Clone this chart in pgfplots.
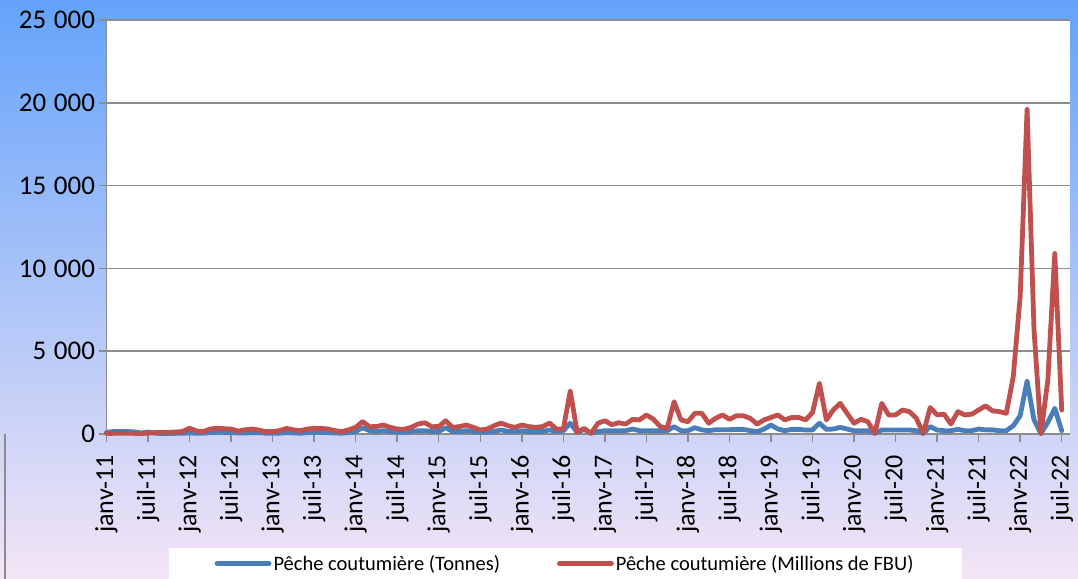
\documentclass[border=0pt]{standalone}
\usepackage{pgfplots}
\pgfplotsset{compat=1.18}
\usepackage{pgfplotstable}
\usepackage{fontspec}
\setmainfont{Carlito}
\definecolor{serblue}{RGB}{74,126,187}
\definecolor{serred}{RGB}{192,80,77}
\definecolor{gridgray}{RGB}{140,140,140}
\definecolor{bgtop}{RGB}{100,163,250}
\definecolor{bgmid}{RGB}{192,211,240}
\definecolor{bgbot}{RGB}{243,229,246}

\pgfplotstableread{
i t m
0 100 30
1 150 40
2 150 50
3 150 50
4 130 40
5 60 30
6 120 60
7 50 80
8 30 100
9 30 100
10 40 120
11 50 150
12 60 350
13 50 180
14 50 150
15 80 300
16 100 350
17 100 320
18 80 300
19 60 180
20 60 250
21 80 300
22 80 240
23 50 140
24 50 150
25 50 200
26 80 340
27 60 250
28 50 200
29 80 300
30 100 340
31 100 340
32 80 300
33 60 200
34 50 140
35 80 250
36 150 400
37 380 750
38 200 440
39 150 450
40 200 540
41 150 400
42 100 300
43 100 280
44 150 400
45 200 600
46 200 680
47 150 440
48 150 450
49 380 800
50 150 400
51 150 450
52 200 540
53 150 400
54 100 240
55 100 300
56 150 500
57 250 660
58 150 500
59 150 400
60 200 540
61 150 450
62 150 400
63 150 450
64 250 660
65 150 300
66 200 300
67 650 2600
68 100 100
69 280 340
70 50 40
71 150 650
72 200 800
73 200 560
74 200 680
75 200 600
76 300 880
77 200 850
78 200 1150
79 200 900
80 200 450
81 200 350
82 440 1950
83 200 850
84 200 740
85 380 1250
86 250 1250
87 200 650
88 260 950
89 260 1150
90 260 890
91 280 1100
92 280 1100
93 200 950
94 140 600
95 300 850
96 540 1000
97 300 1150
98 200 850
99 280 1000
100 280 1000
101 240 850
102 250 1300
103 650 3060
104 280 850
105 300 1450
106 400 1850
107 300 1250
108 200 650
109 200 890
110 200 740
111 40 30
112 240 1850
113 240 1150
114 240 1150
115 240 1450
116 240 1350
117 200 950
118 30 30
119 450 1600
120 240 1150
121 200 1200
122 200 600
123 280 1350
124 200 1150
125 200 1200
126 300 1450
127 250 1700
128 250 1400
129 200 1350
130 200 1250
131 500 3460
132 1100 8300
133 3200 19600
134 850 6300
135 30 30
136 700 3260
137 1550 10900
138 200 1450
}\datatable

\newcommand{\sep}{\hspace{0.28em}}
\begin{document}
\begin{tikzpicture}
\shade[top color=bgtop, middle color=bgmid, bottom color=bgbot] (0,0) rectangle (1078bp,579bp);
\draw[gridgray, line width=1.2bp] (5bp,0) -- (5bp,145bp);
\begin{axis}[
  at={(106.5bp,145bp)}, anchor=south west,
  scale only axis, width=963.5bp, height=414bp,
  xmin=0, xmax=139.2, ymin=0, ymax=25000,
  clip=false,
  scaled y ticks=false,
  axis background/.style={fill=white},
  axis x line*=bottom, axis y line*=left,
  axis line style={gridgray, line width=1.5bp},
  ymajorgrids, major grid style={gridgray, line width=1.5bp},
  tick align=outside, major tick length=8bp,
  tick style={gridgray, line width=1.5bp},
  xtick={0,6,...,138},
  xticklabels={janv-11,juil-11,janv-12,juil-12,janv-13,juil-13,janv-14,juil-14,janv-15,juil-15,janv-16,juil-16,janv-17,juil-17,janv-18,juil-18,janv-19,juil-19,janv-20,juil-20,janv-21,juil-21,janv-22,juil-22},
  xticklabel shift=10bp,
  xticklabel style={rotate=90, anchor=east, font=\fontsize{26bp}{30bp}\selectfont, text=black},
  ytick={0,5000,10000,15000,20000,25000},
  yticklabels={0,5\sep000,10\sep000,15\sep000,20\sep000,25\sep000},
  yticklabel style={anchor=east, font=\fontsize{27bp}{30bp}\selectfont, text=black},
  legend columns=2,
  legend style={at={(0.476,-0.2754)}, anchor=north, draw=none, fill=white,
    font=\fontsize{20.5bp}{24bp}\selectfont, inner xsep=46bp, inner ysep=5bp,
    /tikz/every even column/.append style={column sep=55bp}},
  legend image code/.code={\draw[#1, line width=4.8bp, line cap=round] (0bp,0bp) -- (52bp,0bp);},
  every axis plot/.append style={line width=4.8bp, line join=round, line cap=round, mark=none},
]
\addplot[serblue] table[x=i, y=t] {\datatable};
\addlegendentry{Pêche coutumière (Tonnes)}
\addplot[serred] table[x=i, y=m] {\datatable};
\addlegendentry{Pêche coutumière (Millions de FBU)}
\end{axis}
\pgfresetboundingbox
\useasboundingbox (0,0) rectangle (1078bp,579bp);
\end{tikzpicture}
\end{document}
